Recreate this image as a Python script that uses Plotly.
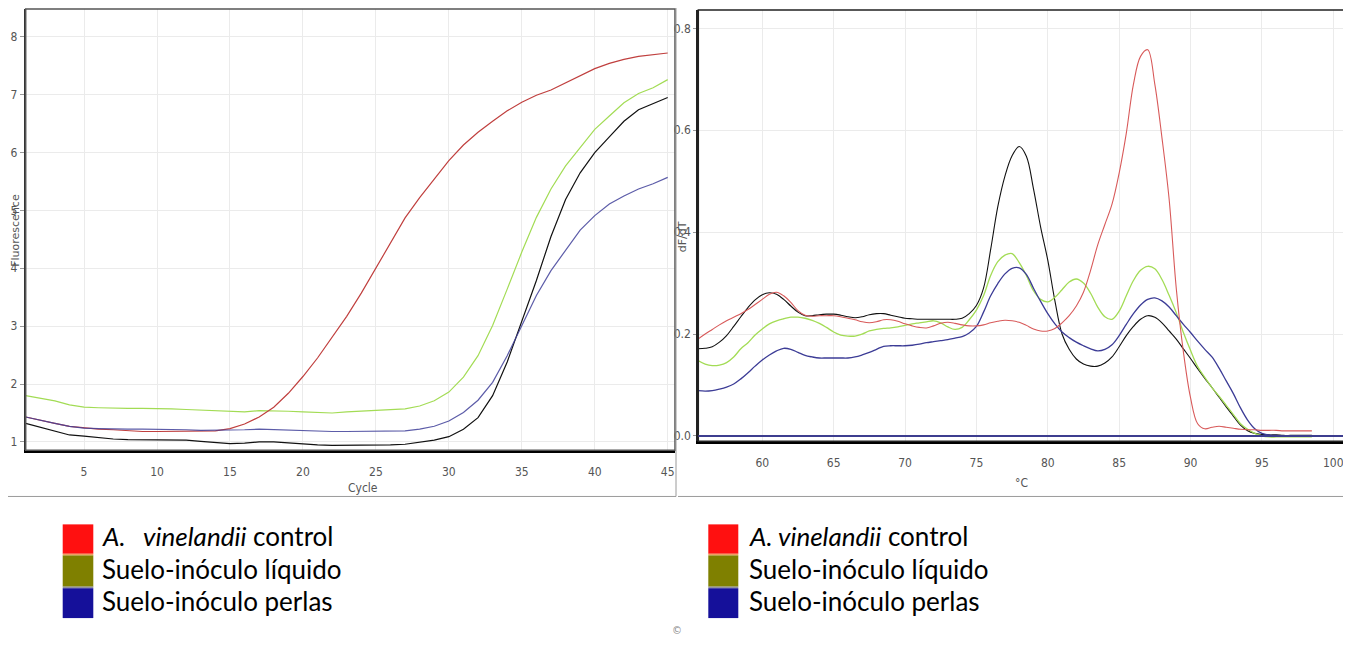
import plotly.graph_objects as go

# page body has an 8px margin: figure is sized and offset to fit the 1351x645 window
OFF = 8
W, H = 1351 - OFF, 645 - OFF

# ---------------- Amplification data (left) ----------------
cycles = list(range(1, 46))
amp_control = [1.43, 1.37, 1.32, 1.27, 1.24, 1.22, 1.21, 1.19, 1.18, 1.18, 1.18, 1.18, 1.18, 1.19, 1.23,
               1.31, 1.43, 1.60, 1.84, 2.13, 2.45, 2.80, 3.17, 3.57, 4.00, 4.45, 4.87, 5.22, 5.55, 5.86,
               6.13, 6.35, 6.54, 6.72, 6.87, 6.99, 7.08, 7.20, 7.33, 7.45, 7.54, 7.61, 7.66, 7.69, 7.72]
amp_liquido = [1.80, 1.76, 1.71, 1.64, 1.60, 1.59, 1.58, 1.58, 1.58, 1.58, 1.57, 1.56, 1.55, 1.53, 1.52,
               1.52, 1.54, 1.54, 1.53, 1.52, 1.51, 1.50, 1.52, 1.53, 1.54, 1.55, 1.57, 1.62, 1.71, 1.86,
               2.12, 2.49, 3.01, 3.64, 4.28, 4.88, 5.37, 5.77, 6.09, 6.40, 6.63, 6.86, 7.02, 7.12, 7.26]
amp_negro = [1.32, 1.25, 1.19, 1.12, 1.10, 1.07, 1.05, 1.04, 1.04, 1.04, 1.04, 1.03, 1.01, 0.99, 0.97,
             0.98, 1.00, 1.00, 0.98, 0.96, 0.95, 0.94, 0.94, 0.94, 0.94, 0.95, 0.96, 0.99, 1.03, 1.09,
             1.22, 1.42, 1.80, 2.38, 3.07, 3.79, 4.55, 5.19, 5.65, 6.00, 6.27, 6.54, 6.74, 6.84, 6.95]
amp_perlas = [1.43, 1.37, 1.32, 1.27, 1.24, 1.23, 1.22, 1.22, 1.22, 1.22, 1.21, 1.21, 1.20, 1.20, 1.20,
              1.21, 1.22, 1.21, 1.20, 1.20, 1.19, 1.18, 1.18, 1.18, 1.18, 1.18, 1.19, 1.22, 1.27, 1.36,
              1.51, 1.72, 2.03, 2.49, 3.01, 3.53, 3.96, 4.32, 4.66, 4.91, 5.11, 5.25, 5.37, 5.46, 5.57]

# ---------------- Melt curve data (right) ----------------
temps = [55.5, 56, 56.5, 57, 57.5, 58, 58.5, 59, 59.5, 60, 60.5, 61, 61.5, 62, 62.5, 63, 63.5, 64, 64.5,
         65, 65.5, 66, 66.5, 67, 67.5, 68, 68.5, 69, 69.5, 70, 70.5, 71, 71.5, 72, 72.5, 73, 73.5, 74,
         74.5, 75, 75.5, 76, 76.5, 77, 77.5, 78, 78.5, 79, 79.5, 80, 80.5, 81, 81.5, 82, 82.5, 83, 83.5,
         84, 84.5, 85, 85.5, 86, 86.5, 87, 87.5, 88, 88.5, 89, 89.5, 90, 90.5, 91, 91.5, 92, 92.5, 93,
         93.5, 94, 94.5, 95, 95.5, 96, 96.5, 97, 97.5, 98, 98.5]
melt_control = [.190, .200, .209, .218, .226, .233, .240, .248, .258, .268, .278, .282, .275, .262, .246,
                .237, .235, .236, .236, .236, .234, .231, .228, .224, .222, .224, .228, .228, .225, .220,
                .216, .213, .212, .216, .221, .223, .221, .218, .216, .216, .218, .222, .225, .227, .226,
                .223, .217, .210, .206, .206, .211, .222, .236, .255, .282, .325, .375, .415, .455, .516,
                .594, .690, .745, .758, .690, .585, .465, .290, .165, .075, .024, .014, .017, .019, .017,
                .015, .013, .012, .012, .011, .011, .011, .010, .010, .010, .010, .010]
melt_negro = [.171, .172, .175, .184, .197, .215, .234, .252, .267, .277, .281, .278, .268, .255, .243,
              .236, .236, .238, .239, .239, .237, .234, .232, .234, .238, .240, .240, .237, .234, .231,
              .230, .229, .229, .229, .229, .229, .229, .231, .240, .256, .290, .366, .450, .510, .550,
              .568, .549, .485, .410, .345, .265, .200, .170, .151, .141, .137, .137, .143, .155, .175,
              .197, .215, .229, .236, .233, .222, .206, .190, .171, .152, .132, .113, .095, .076, .057,
              .039, .021, .010, .005, .003, .002, .002, .001, .001, .001, .001, .001]
melt_liquido = [.148, .141, .138, .139, .144, .155, .171, .183, .198, .210, .220, .226, .230, .233, .233,
                .231, .227, .221, .213, .204, .198, .196, .196, .200, .206, .209, .211, .212, .214, .217,
                .220, .222, .224, .226, .222, .214, .209, .213, .228, .247, .275, .315, .342, .355, .358,
                .340, .315, .285, .268, .263, .272, .287, .302, .308, .300, .280, .253, .234, .229, .245,
                .275, .305, .325, .333, .328, .307, .276, .242, .203, .168, .136, .115, .095, .078, .060,
                .042, .024, .013, .005, .000, -.002, -.002, -.002, -.002, -.002, -.002, -.002]
melt_perlas = [.089, .088, .089, .092, .096, .102, .112, .124, .137, .149, .159, .167, .172, .170, .164,
               .158, .155, .153, .153, .153, .153, .153, .155, .159, .164, .170, .176, .177, .177, .177,
               .178, .180, .183, .185, .187, .189, .192, .195, .202, .215, .243, .275, .299, .318, .329,
               .330, .317, .290, .264, .240, .220, .204, .193, .184, .177, .171, .167, .170, .179, .197,
               .219, .240, .257, .268, .271, .265, .253, .236, .219, .203, .186, .170, .155, .133, .108,
               .083, .055, .031, .014, .005, .002, .001, .000, .000, .000, .000, .000]

left_xticks = [5, 10, 15, 20, 25, 30, 35, 40, 45]
left_yticks = [1, 2, 3, 4, 5, 6, 7, 8]
right_xticks = [60, 65, 70, 75, 80, 85, 90, 95, 100]
right_yticks = [0.0, 0.2, 0.4, 0.6, 0.8]
right_ytext = ["0.0", "0.2", "0.4", "0.6", "0.8"]

legend_left = ["<i>A.   vinelandii</i> control", "Suelo-inóculo líquido", "Suelo-inóculo perlas"]
legend_right = ["<i>A. vinelandii</i> control", "Suelo-inóculo líquido", "Suelo-inóculo perlas"]
legend_colors = ["#ff1010", "#7f8000", "#15109a"]


def px(x):
    return (x - OFF) / W


def py(y):
    return 1 - (y - OFF) / H


fig = go.Figure()

# left chart traces
fig.add_trace(go.Scatter(x=cycles, y=amp_negro, mode="lines", line=dict(color="#111111", width=1.2),
                         xaxis="x", yaxis="y", showlegend=False))
fig.add_trace(go.Scatter(x=cycles, y=amp_liquido, mode="lines", line=dict(color="#a3dc55", width=1.2),
                         xaxis="x", yaxis="y", showlegend=False))
fig.add_trace(go.Scatter(x=cycles, y=amp_control, mode="lines", line=dict(color="#c0403f", width=1.2),
                         xaxis="x", yaxis="y", showlegend=False))
fig.add_trace(go.Scatter(x=cycles, y=amp_perlas, mode="lines", line=dict(color="#40409a", width=1.2),
                         xaxis="x", yaxis="y", showlegend=False, opacity=0.85))

# right chart traces
fig.add_trace(go.Scatter(x=temps, y=melt_negro, mode="lines", line=dict(color="#111111", width=1.1, shape="spline"),
                         xaxis="x2", yaxis="y2", showlegend=False))
fig.add_trace(go.Scatter(x=temps, y=melt_liquido, mode="lines", line=dict(color="#a3dc55", width=1.3, shape="spline"),
                         xaxis="x2", yaxis="y2", showlegend=False))
fig.add_trace(go.Scatter(x=temps, y=melt_perlas, mode="lines", line=dict(color="#3c3c96", width=1.3, shape="spline"),
                         xaxis="x2", yaxis="y2", showlegend=False))
fig.add_trace(go.Scatter(x=temps, y=melt_control, mode="lines", line=dict(color="#d85a5a", width=1.1, shape="spline"),
                         xaxis="x2", yaxis="y2", showlegend=False))

tickfont = dict(family="Liberation Sans Narrow, DejaVu Sans Condensed, Roboto Condensed, Arial Narrow, sans-serif",
                size=12, color="#555555")

axis_common = dict(showgrid=True, gridcolor="#ebebeb", gridwidth=1, zeroline=False, tickfont=tickfont)

fig.update_layout(
    width=W, height=H,
    margin=dict(l=0, r=0, t=0, b=0),
    paper_bgcolor="white", plot_bgcolor="white",
    xaxis=dict(domain=[px(25.7), px(675)], range=[1, 45.5], tickvals=left_xticks,
               showline=True, linecolor="black", linewidth=3, ticks="", ticklabelstandoff=8,
               anchor="y", **axis_common),
    yaxis=dict(domain=[py(451.7), py(9)], range=[0.855, 8.48], tickvals=left_yticks,
               showline=True, linecolor="#333333", linewidth=2, ticks="outside", ticklen=4,
               tickcolor="#999999", anchor="x", **axis_common),
    xaxis2=dict(domain=[px(698.3), px(1346.7)], range=[55.52, 100.94], tickvals=right_xticks,
                showline=True, linecolor="black", linewidth=3, ticks="", ticklabelstandoff=8,
                anchor="y2", **axis_common),
    yaxis2=dict(domain=[py(442.7), py(10)], range=[-0.0106, 0.836], tickvals=right_yticks,
                ticktext=right_ytext, showline=True, linecolor="#222222", linewidth=2,
                ticks="outside", ticklen=3, tickcolor="#999999", anchor="x2", **axis_common),
)

shapes = []
# plot frames
shapes.append(dict(type="rect", xref="x domain", yref="y domain", x0=0, x1=1, y0=0, y1=1,
                   line=dict(color="#555555", width=1.5), layer="above"))
shapes.append(dict(type="rect", xref="x2 domain", yref="y2 domain", x0=0, x1=1, y0=0, y1=1,
                   line=dict(color="#222222", width=1.5), layer="above"))
# threshold line at zero (right)
shapes.append(dict(type="line", xref="x2 domain", yref="y2", x0=0, x1=1, y0=0, y1=0,
                   line=dict(color="#3d3d8f", width=2), layer="above"))
# image borders
border = dict(color="#9a9a9a", width=1)
shapes.append(dict(type="line", xref="paper", yref="paper", x0=px(8), x1=px(676), y0=py(498), y1=py(498), line=border))
shapes.append(dict(type="line", xref="paper", yref="paper", x0=px(676), x1=px(676), y0=py(8), y1=py(498), line=border))
shapes.append(dict(type="line", xref="paper", yref="paper", x0=px(678), x1=px(1348), y0=py(498), y1=py(498), line=border))
shapes.append(dict(type="line", xref="paper", yref="paper", x0=px(1348), x1=px(1348), y0=py(8), y1=py(498), line=border))

# legend squares
sq_rows = [(526, 555.5), (557, 588.5), (590, 620)]
for x0, x1 in [(62.7, 93.3), (708.3, 738.3)]:
    for (y0, y1), c in zip(sq_rows, legend_colors):
        shapes.append(dict(type="rect", xref="paper", yref="paper", x0=px(x0), x1=px(x1), y0=py(y1), y1=py(y0),
                           fillcolor=c, line=dict(width=0)))
    shapes.append(dict(type="line", xref="paper", yref="paper", x0=px(x0), x1=px(x1), y0=py(556.2), y1=py(556.2),
                       line=dict(color="#f0a060", width=1.5)))
    shapes.append(dict(type="line", xref="paper", yref="paper", x0=px(x0), x1=px(x1), y0=py(589.2), y1=py(589.2),
                       line=dict(color="#9090a0", width=1.5)))

fig.update_layout(shapes=shapes)

ann = []
legfont = dict(family="Lato, Carlito, Calibri, Open Sans, sans-serif", size=26, color="black")
row_y = [538, 571, 603]
for txt, yy in zip(legend_left, row_y):
    ann.append(dict(x=px(100), y=py(yy), xref="paper", yref="paper", text=txt, showarrow=False,
                    xanchor="left", yanchor="middle", font=legfont))
for txt, yy in zip(legend_right, row_y):
    ann.append(dict(x=px(746.7), y=py(yy), xref="paper", yref="paper", text=txt, showarrow=False,
                    xanchor="left", yanchor="middle", font=legfont))

small = dict(family="Liberation Sans Narrow, DejaVu Sans Condensed, Arial Narrow, sans-serif", size=12, color="#555555")
ann.append(dict(x=px(363), y=py(490), xref="paper", yref="paper", text="Cycle", showarrow=False,
                xanchor="center", yanchor="middle", font=small))
ann.append(dict(x=px(1021), y=py(484), xref="paper", yref="paper", text="°C", showarrow=False,
                xanchor="center", yanchor="middle", font=small))
ann.append(dict(x=px(8), y=py(231), xref="paper", yref="paper", text="Fluorescence", showarrow=False,
                textangle=-90, xanchor="left", yanchor="middle", borderpad=0,
                font=dict(family="DejaVu Sans, sans-serif", size=11, color="#555555")))
ann.append(dict(x=px(682), y=py(238), xref="paper", yref="paper", text="dF/dT", showarrow=False,
                textangle=-90, xanchor="center", yanchor="middle",
                font=dict(family="DejaVu Sans, sans-serif", size=11, color="#555555")))
ann.append(dict(x=px(677), y=py(632), xref="paper", yref="paper", text="©", showarrow=False,
                xanchor="center", yanchor="middle", font=dict(family="DejaVu Sans, sans-serif", size=10, color="#888888")))

fig.update_layout(annotations=ann)

fig.write_html("out.html")
